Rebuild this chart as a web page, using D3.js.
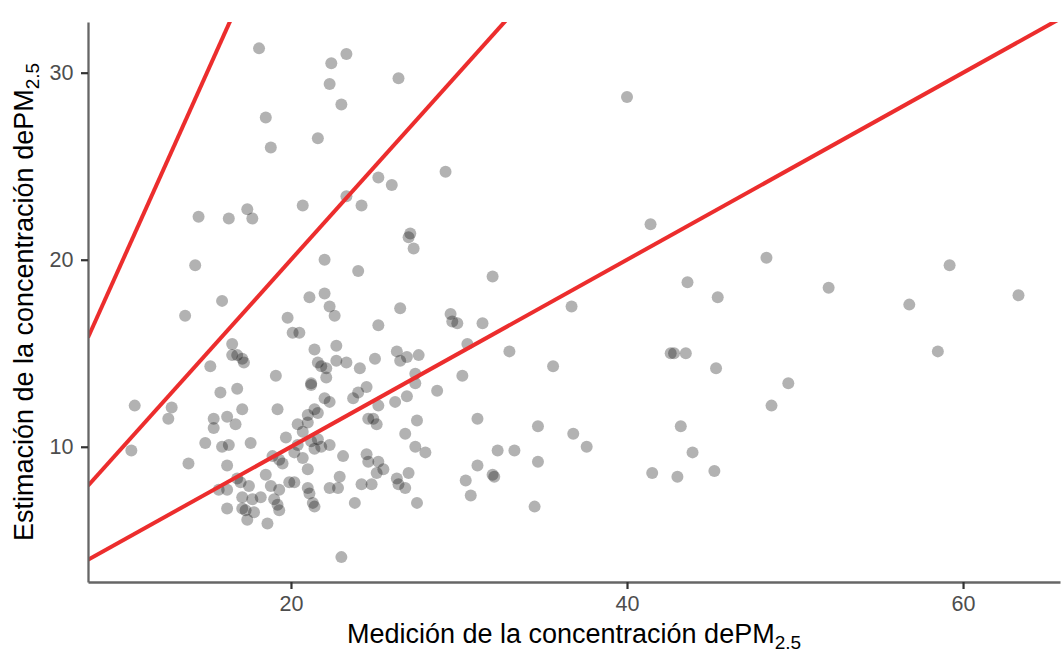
<!DOCTYPE html>
<html>
<head>
<meta charset="utf-8">
<script src="https://cdn.jsdelivr.net/npm/d3@7"></script>
<style>
  body { margin: 0; background: #fff; }
  svg { display: block; font-family: "Liberation Sans", Arial, sans-serif; }
  .axis .domain { stroke: #666; stroke-width: 2.3; }
  .axis .tick line { stroke: #333; stroke-width: 2.2; }
  .axis .tick text { fill: #4d4d4d; font-size: 21.5px; }
</style>
</head>
<body>
<div id="chart-area"></div>
<script>
/***** Data *****/
const medicion = [
  18.1,23.3,22.4,26.4,22.3,40.0,23.0,18.5,21.6,18.8,29.2,25.2,26.0,23.3,20.7,24.2,17.4,14.5,16.3,17.7,
  41.4,27.1,27.0,27.3,48.3,22.0,14.3,59.2,24.0,32.0,43.6,52.0,22.0,63.3,21.1,45.4,15.9,56.8,36.7,22.3,
  26.5,29.5,13.7,22.6,19.8,29.6,29.9,31.4,25.2,20.1,20.5,16.5,30.5,22.7,21.4,33.0,58.5,26.3,42.6,42.8,
  43.5,16.5,16.8,17.1,17.2,27.6,26.9,26.5,25.0,21.6,22.7,23.3,35.6,21.8,22.1,15.2,24.1,45.3,27.4,30.2,
  19.1,22.1,21.2,21.2,27.4,49.6,16.8,24.5,15.8,28.7,24.0,26.9,23.7,22.0,22.3,26.2,48.6,25.2,10.7,12.9,
  17.1,19.2,21.4,21.6,21.0,12.7,15.4,16.2,24.6,24.9,27.5,31.1,25.1,21.0,20.4,16.7,15.4,34.7,43.2,20.7,
  26.8,36.8,19.7,21.2,21.6,21.4,21.8,22.3,17.6,14.9,15.9,16.3,20.4,27.4,37.6,10.5,32.3,33.3,28.0,43.9,
  20.2,20.7,18.9,19.3,19.5,23.1,24.5,24.6,25.2,34.7,13.9,16.2,31.1,21.0,25.1,25.5,27.0,18.5,41.5,45.2,
  32.0,32.1,43.0,16.8,17.0,22.9,26.3,26.4,26.8,30.4,24.2,24.8,19.9,20.2,18.8,17.5,15.7,16.2,19.3,22.3,
  22.8,21.0,21.1,30.7,17.1,17.7,18.2,19.0,19.2,19.3,23.8,27.5,21.3,21.4,34.5,16.2,17.1,17.3,17.8,17.4,
  18.6,23.0
];
const estimacion = [
  31.3,31.0,30.5,29.7,29.4,28.7,28.3,27.6,26.5,26.0,24.7,24.4,24.0,23.4,22.9,22.9,22.7,22.3,22.2,22.2,
  21.9,21.4,21.2,20.6,20.1,20.0,19.7,19.7,19.4,19.1,18.8,18.5,18.2,18.1,18.0,18.0,17.8,17.6,17.5,17.5,
  17.4,17.1,17.0,17.0,16.9,16.7,16.6,16.6,16.5,16.1,16.1,15.5,15.5,15.4,15.2,15.1,15.1,15.1,15.0,15.0,
  15.0,14.9,14.9,14.7,14.5,14.9,14.8,14.6,14.7,14.5,14.6,14.5,14.3,14.3,14.2,14.3,14.2,14.2,13.9,13.8,
  13.8,13.7,13.4,13.3,13.4,13.4,13.1,13.2,12.9,13.0,12.9,12.7,12.6,12.6,12.4,12.4,12.2,12.2,12.2,12.1,
  12.0,12.0,12.0,11.8,11.7,11.5,11.5,11.6,11.5,11.5,11.4,11.5,11.2,11.3,11.2,11.2,11.0,11.1,11.1,10.8,
  10.7,10.7,10.5,10.3,10.4,9.9,10.0,10.1,10.2,10.2,10.0,10.1,10.1,10.0,10.0,9.8,9.8,9.8,9.7,9.7,
  9.7,9.4,9.5,9.3,9.1,9.5,9.6,9.2,9.2,9.2,9.1,9.0,9.0,8.8,8.6,8.8,8.6,8.5,8.6,8.7,
  8.5,8.4,8.4,8.3,8.1,8.4,8.3,8.0,7.8,8.2,8.0,8.0,8.1,8.1,7.9,7.9,7.7,7.7,7.7,7.8,
  7.8,7.8,7.5,7.4,7.3,7.2,7.3,7.2,6.9,6.6,7.0,7.0,7.0,6.8,6.8,6.7,6.7,6.6,6.5,6.1,
  5.9,4.1
];
const slopes = [2, 1, 0.5];          // reference lines y = k * x
const xTicks = [20, 40, 60];
const yTicks = [10, 20, 30];
const xDomain = [7.92, 65.77];
const yDomain = [2.77, 32.71];

/***** Layout *****/
const W = 1062, H = 652;
const panel = { left: 88, right: 1060, top: 22, bottom: 582 };

const svg = d3.select("#chart-area").append("svg")
  .attr("width", W).attr("height", H);

const x = d3.scaleLinear().domain(xDomain).range([panel.left, panel.right]);
const y = d3.scaleLinear().domain(yDomain).range([panel.bottom, panel.top]);

svg.append("clipPath").attr("id", "clip")
  .append("rect")
  .attr("x", panel.left).attr("y", panel.top)
  .attr("width", panel.right - panel.left).attr("height", panel.bottom - panel.top);

/***** Points *****/
const pts = medicion.map((m, i) => ({ m, e: estimacion[i] }));
svg.append("g").attr("clip-path", "url(#clip)")
  .selectAll("circle").data(pts).join("circle")
    .attr("cx", d => x(d.m))
    .attr("cy", d => y(d.e))
    .attr("r", 6)
    .attr("fill", "#000")
    .attr("fill-opacity", 0.3);

/***** Reference lines *****/
const line = d3.line().x(d => x(d[0])).y(d => y(d[1]));
svg.append("g").attr("clip-path", "url(#clip)")
  .selectAll("path").data(slopes).join("path")
    .attr("d", k => line(xDomain.map(v => [v, k * v])))
    .attr("fill", "none")
    .attr("stroke", "#ec2d2d")
    .attr("stroke-width", 4);

/***** Axes *****/
svg.append("g").attr("class", "axis")
  .attr("transform", `translate(0,${panel.bottom})`)
  .call(d3.axisBottom(x).tickValues(xTicks).tickSize(7).tickSizeOuter(0).tickPadding(7));

svg.append("g").attr("class", "axis")
  .attr("transform", `translate(${panel.left},0)`)
  .call(d3.axisLeft(y).tickValues(yTicks).tickSize(7).tickSizeOuter(0).tickPadding(7.5));

/***** Titles *****/
const xt = svg.append("text")
  .attr("x", (panel.left + panel.right) / 2).attr("y", 643)
  .attr("text-anchor", "middle").attr("font-size", 27).attr("fill", "#000")
  .text("Medición de la concentración de");
xt.append("tspan").text("PM");
xt.append("tspan").attr("font-size", 19).attr("dy", 6).text("2.5");

const yt = svg.append("text")
  .attr("transform", `translate(33,${(panel.top + panel.bottom) / 2}) rotate(-90)`)
  .attr("text-anchor", "middle").attr("font-size", 27).attr("fill", "#000")
  .text("Estimación de la concentración de");
yt.append("tspan").text("PM");
yt.append("tspan").attr("font-size", 19).attr("dy", 6).text("2.5");
</script>
</body>
</html>
